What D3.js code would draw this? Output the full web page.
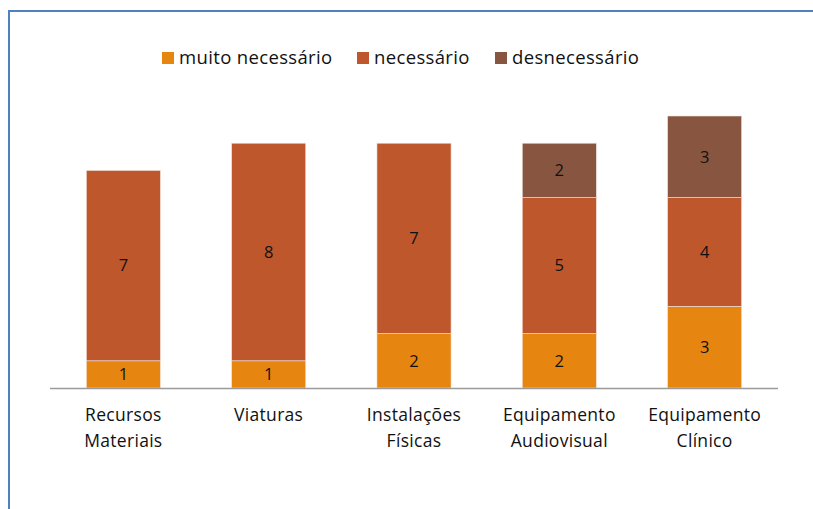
<!DOCTYPE html>
<html>
<head>
<meta charset="utf-8">
<script src="https://cdn.jsdelivr.net/npm/d3@7"></script>
<style>
  body { margin: 0; background: #fff; }
  text { font-family: "Open Sans", "DejaVu Sans", sans-serif; fill: #111; }
</style>
</head>
<body>
<div id="graph"></div>
<script>
var categories = [['Recursos', 'Materiais'], ['Viaturas'], ['Instalações', 'Físicas'], ['Equipamento', 'Audiovisual'], ['Equipamento', 'Clínico']]
var seriesNames = ['muito necessário', 'necessário', 'desnecessário']
var muito = [1, 1, 2, 2, 3]
var necessario = [7, 8, 7, 5, 4]
var desnecessario = [0, 0, 0, 2, 3]

var width = 813, height = 509
var colors = ['#E6850F', '#BE572B', '#885640']

var svg = d3.select('#graph').append('svg')
    .attr('width', width)
    .attr('height', height)

// frame
svg.append('path')
    .attr('d', 'M9,' + height + ' L9,11 L' + width + ',11')
    .attr('fill', 'none')
    .attr('stroke', '#4F81BD')
    .attr('stroke-width', 2)

var rows = categories.map(function(c, i){
  return {key: i, 'muito necessário': muito[i], 'necessário': necessario[i], 'desnecessário': desnecessario[i]}
})
var stacked = d3.stack().keys(seriesNames)(rows)

var x = d3.scaleBand()
    .domain(d3.range(categories.length))
    .range([50, 778])
    .paddingInner(0.49)
    .paddingOuter(0.25)

var y = d3.scaleLinear()
    .domain([0, 10])
    .range([388, 116])

var layers = svg.selectAll('g.layer')
  .data(stacked)
  .enter().append('g')
    .attr('class', 'layer')
    .attr('fill', function(d, i){ return colors[i] })

layers.selectAll('rect')
  .data(function(d){ return d })
  .enter().append('rect')
    .attr('x', function(d, i){ return x(i) })
    .attr('width', x.bandwidth())
    .attr('y', function(d){ return y(d[1]) })
    .attr('height', function(d){ return y(d[0]) - y(d[1]) })
    .attr('stroke', '#f3e6df')
    .attr('stroke-width', 0.6)
    .style('display', function(d){ return d[1] - d[0] > 0 ? null : 'none' })

layers.selectAll('text')
  .data(function(d){ return d })
  .enter().append('text')
    .filter(function(d){ return d[1] - d[0] > 0 })
    .attr('x', function(d){ return x(d.data.key) + x.bandwidth() / 2 })
    .attr('y', function(d){ return (y(d[0]) + y(d[1])) / 2 })
    .attr('dy', '0.35em')
    .attr('text-anchor', 'middle')
    .style('font-size', '16.5px')
    .text(function(d){ return d[1] - d[0] })

// baseline
svg.append('line')
    .attr('x1', 50).attr('x2', 778)
    .attr('y1', 388.5).attr('y2', 388.5)
    .attr('stroke', '#9a9a9a')
    .attr('stroke-width', 1.5)

// category labels
var labels = svg.selectAll('text.cat')
  .data(categories)
  .enter().append('text')
    .attr('class', 'cat')
    .attr('text-anchor', 'middle')
    .attr('x', function(d, i){ return x(i) + x.bandwidth() / 2 })
    .attr('y', 421)
    .style('font-size', '17.5px')
    .style('letter-spacing', '0.3px')

labels.selectAll('tspan')
  .data(function(d){ return d })
  .enter().append('tspan')
    .attr('x', function(){ return d3.select(this.parentNode).attr('x') })
    .attr('dy', function(d, i){ return i ? 26 : 0 })
    .text(function(d){ return d })

// legend
var legendX = [162, 357, 495]
var legend = svg.selectAll('g.legend')
  .data(seriesNames)
  .enter().append('g')
    .attr('class', 'legend')
    .attr('transform', function(d, i){ return 'translate(' + legendX[i] + ',58)' })

legend.append('rect')
    .attr('x', 0).attr('y', -6)
    .attr('width', 12).attr('height', 12)
    .attr('fill', function(d, i){ return colors[i] })

legend.append('text')
    .attr('x', 17)
    .attr('dy', '0.33em')
    .style('font-size', '18.5px')
    .style('letter-spacing', '0.35px')
    .text(function(d){ return d })
</script>
</body>
</html>
